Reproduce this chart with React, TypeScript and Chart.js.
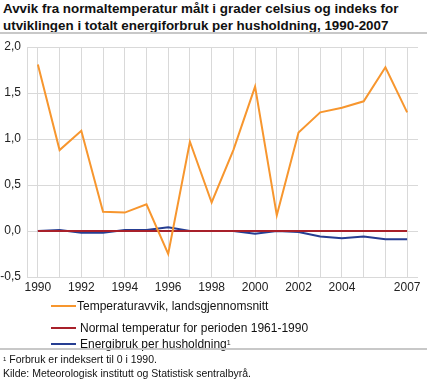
import React, { useEffect, useRef } from "react";
import { Chart, registerables } from "chart.js";

Chart.register(...registerables);

const years = ["1990","1991","1992","1993","1994","1995","1996","1997","1998","1999","2000","2001","2002","2003","2004","2005","2006","2007"];
const shownYears = ["1990","1992","1994","1996","1998","2000","2002","2004","2007"];
const temperatureDeviation = [1.81, 0.88, 1.09, 0.21, 0.20, 0.29, -0.25, 0.97, 0.31, 0.88, 1.57, 0.17, 1.07, 1.29, 1.34, 1.41, 1.78, 1.29];
const normalTemperature = [0, 0, 0, 0, 0, 0, 0, 0, 0, 0, 0, 0, 0, 0, 0, 0, 0, 0];
const energyPerHousehold = [0, 0.01, -0.02, -0.02, 0.01, 0.01, 0.04, 0, 0, 0, -0.03, 0, -0.01, -0.06, -0.08, -0.06, -0.09, -0.09];
const yTicks = [2.0, 1.5, 1.0, 0.5, 0.0, -0.5];

const title = "Avvik fra normaltemperatur målt i grader celsius og indeks for utviklingen i totalt energiforbruk per husholdning, 1990-2007";

const ORANGE = "#f7962e";
const RED = "#a8202a";
const BLUE = "#263e92";
const GRID = "#d9d9d9";
const FONT = "'Liberation Sans', Arial, sans-serif";

export default function App() {
  const ref = useRef<HTMLCanvasElement>(null);

  useEffect(() => {
    document.body.style.margin = "0";
    const ctx = ref.current!;
    const chart = new Chart(ctx, {
      type: "line",
      data: {
        labels: years,
        datasets: [
          { label: "Energibruk per husholdning", data: energyPerHousehold, borderColor: BLUE, borderWidth: 2, pointRadius: 0, tension: 0, order: 3 },
          { label: "Normal temperatur for perioden 1961-1990", data: normalTemperature, borderColor: RED, borderWidth: 2, pointRadius: 0, tension: 0, order: 2 },
          { label: "Temperaturavvik, landsgjennomsnitt", data: temperatureDeviation, borderColor: ORANGE, borderWidth: 2, pointRadius: 0, tension: 0, order: 1 },
        ],
      },
      options: {
        animation: false,
        responsive: false,
        maintainAspectRatio: false,
        layout: { padding: { left: 0, right: 9, top: 47, bottom: 0 } },
        plugins: { legend: { display: false }, tooltip: { enabled: false }, title: { display: false } },
        scales: {
          x: {
            type: "category",
            offset: true,
            grid: { color: GRID, lineWidth: 1, drawTicks: false, offset: false },
            border: { display: false },
            ticks: {
              autoSkip: false,
              maxRotation: 0,
              padding: 3,
              color: "#222",
              font: { family: FONT, size: 12 },
              callback: function (_v: any, i: number) {
                return shownYears.includes(years[i]) ? years[i] : "";
              },
            },
            afterFit: (s: any) => { s.height = 23; },
          },
          y: {
            min: -0.5,
            max: 2.0,
            afterBuildTicks: (s: any) => { s.ticks = yTicks.map((v) => ({ value: v })); },
            grid: { color: GRID, lineWidth: 1, drawTicks: false },
            border: { display: true, color: GRID, width: 1 },
            ticks: {
              padding: 6,
              color: "#222",
              font: { family: FONT, size: 12 },
              callback: (v: any) => Number(v).toFixed(1).replace(".", ","),
            },
            afterFit: (s: any) => { s.width = 27; },
          },
        },
      },
    });
    return () => chart.destroy();
  }, []);

  const legendRow = (color: string, text: React.ReactNode, top: number, lineLeft: number, textLeft: number) => (
    <div style={{ position: "absolute", top, left: 0, width: 427, height: 16 }}>
      <div style={{ position: "absolute", left: lineLeft, top: 7, width: 25, height: 2, background: color }} />
      <div style={{ position: "absolute", left: textLeft, top: 0, fontSize: 12, lineHeight: "16px", color: "#111", whiteSpace: "nowrap" }}>{text}</div>
    </div>
  );

  return (
    <div style={{ position: "fixed", left: 0, top: 0, width: 427, height: 382, background: "#fff", fontFamily: FONT, overflow: "hidden" }}>
      <div style={{ position: "absolute", left: 3, top: 0, width: 420, fontWeight: "bold", fontSize: 13.4, lineHeight: "17px", color: "#111" }}>
        {title}
      </div>
      <div style={{ position: "absolute", left: 0, top: 32, width: 427, height: 2, background: "#c8c8c8" }} />
      <canvas ref={ref} width={427} height={300} style={{ position: "absolute", left: 0, top: 0, width: 427, height: 300 }} />
      {legendRow(ORANGE, "Temperaturavvik, landsgjennomsnitt", 298, 51, 77)}
      {legendRow(RED, "Normal temperatur for perioden 1961-1990", 320, 51, 80)}
      {legendRow(BLUE, <span>Energibruk per husholdning<sup style={{ fontSize: 7, verticalAlign: "top", position: "relative", top: -1 }}>1</sup></span>, 336, 51, 80)}
      <div style={{ position: "absolute", left: 0, top: 348, width: 427, height: 2, background: "#c8c8c8" }} />
      <div style={{ position: "absolute", left: 3, top: 352, fontSize: 10.5, lineHeight: "14px", color: "#111", whiteSpace: "nowrap" }}>
        <sup style={{ fontSize: 6, verticalAlign: "top" }}>1</sup> Forbruk er indeksert til 0 i 1990.
      </div>
      <div style={{ position: "absolute", left: 3, top: 366, fontSize: 10.5, lineHeight: "14px", color: "#111", whiteSpace: "nowrap" }}>
        Kilde: Meteorologisk institutt og Statistisk sentralbyrå.
      </div>
    </div>
  );
}
